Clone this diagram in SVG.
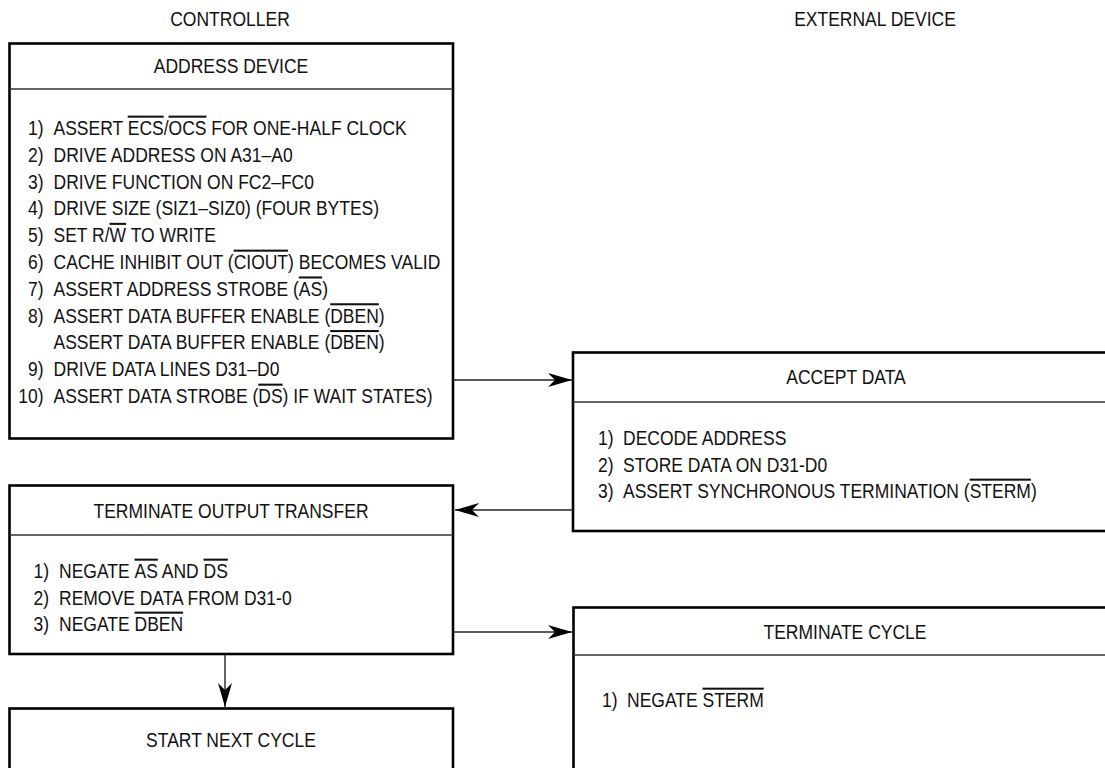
<svg xmlns="http://www.w3.org/2000/svg" width="1105" height="768" viewBox="0 0 1105 768">
<style>
.t{font-family:"Liberation Sans",Arial,sans-serif;font-size:20.5px;fill:#111}
.m{text-anchor:middle}
.e{text-anchor:end}
.ov{text-decoration:overline}
.box{fill:#fff;stroke:#000;stroke-width:2.6}
.div{stroke:#333;stroke-width:1.5}
.con{stroke:#222;stroke-width:1.4;fill:none}
</style>
<defs>
<marker id="ah" markerUnits="userSpaceOnUse" markerWidth="26" markerHeight="16" viewBox="-25 -8 26 16" refX="0" refY="0" orient="auto">
<path d="M0,0 L-24,-7 L-17,0 L-24,7 Z" fill="#000"/>
</marker>
</defs>
<rect width="1105" height="768" fill="#fff"/>
<text class="t m" transform="translate(230,26) scale(0.854,1)">CONTROLLER</text>
<text class="t m" transform="translate(875,26) scale(0.854,1)">EXTERNAL DEVICE</text>

<g id="address-device">
<rect class="box" x="9.5" y="43.5" width="443.5" height="395"/>
<line class="div" x1="9.5" y1="89" x2="453" y2="89"/>
<text class="t m" transform="translate(231,73) scale(0.854,1)">ADDRESS DEVICE</text>
<text class="t e" transform="translate(43.5,135) scale(0.854,1)">1)</text>
<text class="t" transform="translate(53.5,135) scale(0.854,1)">ASSERT <tspan class="ov">ECS</tspan>/<tspan class="ov">OCS</tspan> FOR ONE-HALF CLOCK</text>
<text class="t e" transform="translate(43.5,161.8) scale(0.854,1)">2)</text>
<text class="t" transform="translate(53.5,161.8) scale(0.854,1)">DRIVE ADDRESS ON A31–A0</text>
<text class="t e" transform="translate(43.5,188.6) scale(0.854,1)">3)</text>
<text class="t" transform="translate(53.5,188.6) scale(0.854,1)">DRIVE FUNCTION ON FC2–FC0</text>
<text class="t e" transform="translate(43.5,215.4) scale(0.854,1)">4)</text>
<text class="t" transform="translate(53.5,215.4) scale(0.854,1)">DRIVE SIZE (SIZ1–SIZ0) (FOUR BYTES)</text>
<text class="t e" transform="translate(43.5,242.2) scale(0.854,1)">5)</text>
<text class="t" transform="translate(53.5,242.2) scale(0.854,1)">SET R/<tspan class="ov">W</tspan> TO WRITE</text>
<text class="t e" transform="translate(43.5,269) scale(0.854,1)">6)</text>
<text class="t" transform="translate(53.5,269) scale(0.854,1)">CACHE INHIBIT OUT (<tspan class="ov">CIOUT</tspan>) BECOMES VALID</text>
<text class="t e" transform="translate(43.5,295.8) scale(0.854,1)">7)</text>
<text class="t" transform="translate(53.5,295.8) scale(0.854,1)">ASSERT ADDRESS STROBE (<tspan class="ov">AS</tspan>)</text>
<text class="t e" transform="translate(43.5,322.6) scale(0.854,1)">8)</text>
<text class="t" transform="translate(53.5,322.6) scale(0.854,1)">ASSERT DATA BUFFER ENABLE (<tspan class="ov">DBEN</tspan>)</text>
<text class="t" transform="translate(53.5,349.4) scale(0.854,1)">ASSERT DATA BUFFER ENABLE (<tspan class="ov">DBEN</tspan>)</text>
<text class="t e" transform="translate(43.5,376.2) scale(0.854,1)">9)</text>
<text class="t" transform="translate(53.5,376.2) scale(0.854,1)">DRIVE DATA LINES D31–D0</text>
<text class="t e" transform="translate(43.5,403) scale(0.854,1)">10)</text>
<text class="t" transform="translate(53.5,403) scale(0.854,1)">ASSERT DATA STROBE (<tspan class="ov">DS</tspan>) IF WAIT STATES)</text>
</g>

<g id="accept-data">
<rect class="box" x="573" y="352.5" width="545" height="178.5"/>
<line class="div" x1="573" y1="402" x2="1118" y2="402"/>
<text class="t m" transform="translate(846,384) scale(0.854,1)">ACCEPT DATA</text>
<text class="t e" transform="translate(613.5,445) scale(0.854,1)">1)</text>
<text class="t" transform="translate(623,445) scale(0.854,1)">DECODE ADDRESS</text>
<text class="t e" transform="translate(613.5,471.5) scale(0.854,1)">2)</text>
<text class="t" transform="translate(623,471.5) scale(0.854,1)">STORE DATA ON D31-D0</text>
<text class="t e" transform="translate(613.5,498) scale(0.854,1)">3)</text>
<text class="t" transform="translate(623,498) scale(0.854,1)">ASSERT SYNCHRONOUS TERMINATION (<tspan class="ov">STERM</tspan>)</text>
</g>

<g id="terminate-output-transfer">
<rect class="box" x="9.5" y="485.5" width="443.5" height="168.5"/>
<line class="div" x1="9.5" y1="535" x2="453" y2="535"/>
<text class="t m" transform="translate(231,518) scale(0.854,1)">TERMINATE OUTPUT TRANSFER</text>
<text class="t e" transform="translate(49,578) scale(0.854,1)">1)</text>
<text class="t" transform="translate(59,578) scale(0.854,1)">NEGATE <tspan class="ov">AS</tspan> AND <tspan class="ov">DS</tspan></text>
<text class="t e" transform="translate(49,604.5) scale(0.854,1)">2)</text>
<text class="t" transform="translate(59,604.5) scale(0.854,1)">REMOVE  DATA FROM D31-0</text>
<text class="t e" transform="translate(49,631) scale(0.854,1)">3)</text>
<text class="t" transform="translate(59,631) scale(0.854,1)">NEGATE <tspan class="ov">DBEN</tspan></text>
</g>

<g id="terminate-cycle">
<rect class="box" x="573.5" y="607.5" width="545" height="180"/>
<line class="div" x1="573.5" y1="655" x2="1118" y2="655"/>
<text class="t m" transform="translate(845,639) scale(0.854,1)">TERMINATE CYCLE</text>
<text class="t e" transform="translate(617.5,707) scale(0.854,1)">1)</text>
<text class="t" transform="translate(627,707) scale(0.854,1)">NEGATE <tspan class="ov">STERM</tspan></text>
</g>

<g id="start-next-cycle">
<rect class="box" x="9.5" y="708.5" width="443.5" height="80"/>
<text class="t m" transform="translate(231,747) scale(0.854,1)">START NEXT CYCLE</text>
</g>

<g id="connectors">
<line class="con" x1="453" y1="380" x2="572" y2="380" marker-end="url(#ah)"/>
<line class="con" x1="573" y1="510" x2="455" y2="510" marker-end="url(#ah)"/>
<line class="con" x1="453" y1="632" x2="572" y2="632" marker-end="url(#ah)"/>
<line class="con" x1="225" y1="654" x2="225" y2="707" marker-end="url(#ah)"/>
</g>
</svg>
